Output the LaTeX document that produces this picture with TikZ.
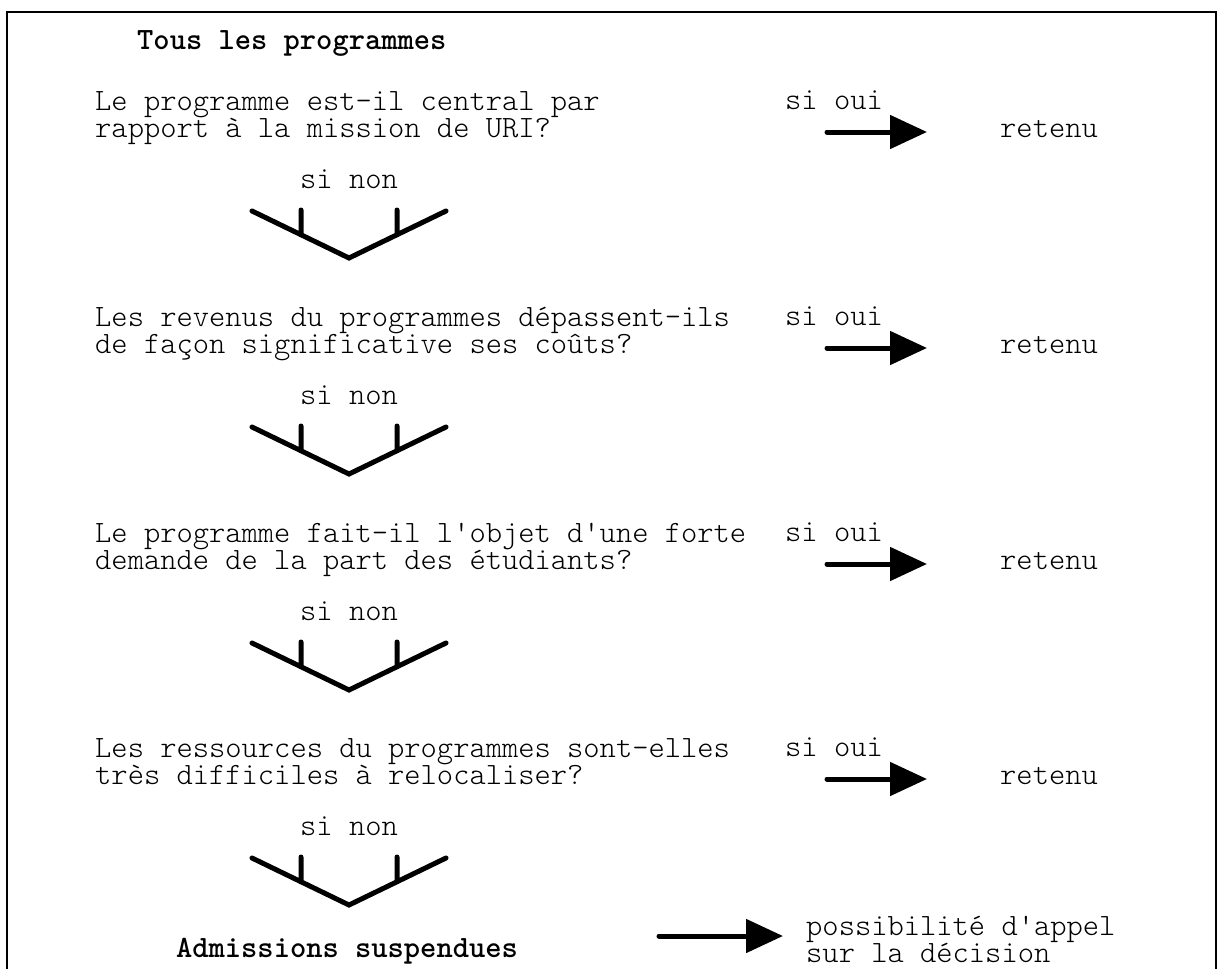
\documentclass[tikz,border=0pt]{standalone}
\usetikzlibrary{arrows.meta,calc}

\begin{document}
\begin{tikzpicture}[x=1pt, y=-1pt,
every node/.style={inner sep=0pt, font=\ttfamily\fontseries{l}\fontsize{31}{27}\selectfont},
question/.style={anchor=base west, align=left},
title/.style={font=\ttfamily\bfseries\fontsize{31}{27}\selectfont},
fork/.style={line width=5pt, line cap=round},
goarrow/.style={line width=5pt, line cap=round, -{Triangle[length=37pt, width=33pt]}}]
\useasboundingbox (0,0) rectangle (1223,969);
\draw [line width=2pt] (7,969) -- (7,12) -- (1216,12) -- (1216,969);

\node [title, anchor=base west] (tous) at (137,49) {Tous les programmes};

% question 1
\node [question] (q_1) at (95,137) {Le programme est-il central par\\rapport à la mission de URI?};
\node [anchor=base west] (oui_1) at (785,109) {si oui};
\node [anchor=base west] (ret_1) at (1000,137) {retenu};
\coordinate (a_1) at (827,132);
\coordinate (b_1) at (927,132);
\draw [goarrow] (a_1) -- (b_1);
\node [anchor=base] (non_1) at (349,188) {si non};
\coordinate (v_1) at (349,258);
\draw [fork] ($(v_1)+(-97,-47)$) -- (v_1) -- ($(v_1)+(97,-47)$)
($(v_1)+(-48,-23)$) -- ++(0,-25)
($(v_1)+(48,-23)$) -- ++(0,-25);

% question 2
\node [question] (q_2) at (95,353) {Les revenus du programmes dépassent-ils\\de façon significative ses coûts?};
\node [anchor=base west] (oui_2) at (785,325) {si oui};
\node [anchor=base west] (ret_2) at (1000,353) {retenu};
\coordinate (a_2) at (827,348);
\coordinate (b_2) at (927,348);
\draw [goarrow] (a_2) -- (b_2);
\node [anchor=base] (non_2) at (349,404) {si non};
\coordinate (v_2) at (349,474);
\draw [fork] ($(v_2)+(-97,-47)$) -- (v_2) -- ($(v_2)+(97,-47)$)
($(v_2)+(-48,-23)$) -- ++(0,-25)
($(v_2)+(48,-23)$) -- ++(0,-25);

% question 3
\node [question] (q_3) at (95,569) {Le programme fait-il l'objet d'une forte\\demande de la part des étudiants?};
\node [anchor=base west] (oui_3) at (785,541) {si oui};
\node [anchor=base west] (ret_3) at (1000,569) {retenu};
\coordinate (a_3) at (827,564);
\coordinate (b_3) at (927,564);
\draw [goarrow] (a_3) -- (b_3);
\node [anchor=base] (non_3) at (349,620) {si non};
\coordinate (v_3) at (349,690);
\draw [fork] ($(v_3)+(-97,-47)$) -- (v_3) -- ($(v_3)+(97,-47)$)
($(v_3)+(-48,-23)$) -- ++(0,-25)
($(v_3)+(48,-23)$) -- ++(0,-25);

% question 4
\node [question] (q_4) at (95,784) {Les ressources du programmes sont-elles\\très difficiles à relocaliser?};
\node [anchor=base west] (oui_4) at (785,756) {si oui};
\node [anchor=base west] (ret_4) at (1000,784) {retenu};
\coordinate (a_4) at (827,779);
\coordinate (b_4) at (927,779);
\draw [goarrow] (a_4) -- (b_4);
\node [anchor=base] (non_4) at (349,835) {si non};
\coordinate (v_4) at (349,905);
\draw [fork] ($(v_4)+(-97,-47)$) -- (v_4) -- ($(v_4)+(97,-47)$)
($(v_4)+(-48,-23)$) -- ++(0,-25)
($(v_4)+(48,-23)$) -- ++(0,-25);

% result
\node [title, anchor=base] (adm) at (347,957) {Admissions suspendues};
\coordinate (a_5) at (659,936);
\coordinate (b_5) at (783,936);
\draw [goarrow] (a_5) -- (b_5);
\node [question] (appel) at (806,962) {possibilité d'appel\\sur la décision};
\end{tikzpicture}
\end{document}
